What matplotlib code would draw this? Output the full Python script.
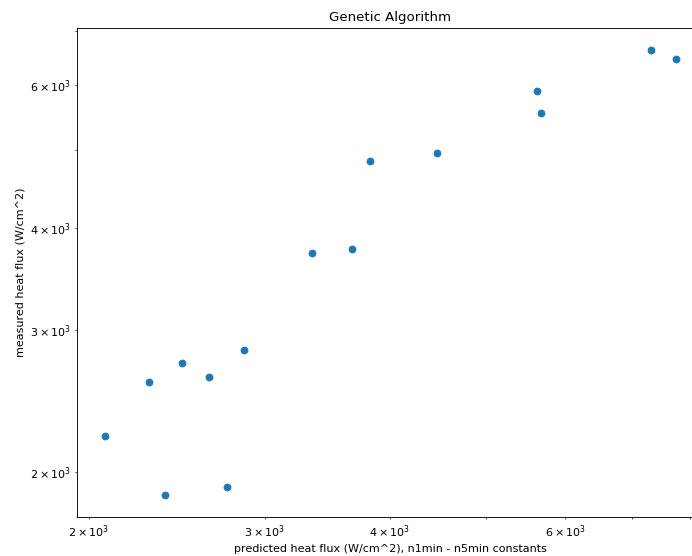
import matplotlib
matplotlib.use("Agg")
import matplotlib.pyplot as plt

# predicted vs measured heat flux (W/cm^2)
predicted = [2078, 2295, 2480, 2636, 2857, 2384, 2750, 3346, 3671, 3826,
             4467, 5624, 5669, 7302, 7734]
measured = [2215, 2588, 2732, 2621, 2832, 1877, 1918, 3733, 3771, 4835,
            4948, 5897, 5546, 6628, 6463]

W, H = 692, 556
DPI = 80
fig = plt.figure(figsize=(W / DPI, H / DPI), dpi=DPI)
# axes runs a little past the right edge, like the cropped original
ax = fig.add_axes([77 / W, (H - 517) / H, 627 / W, 489 / H])

ax.scatter(predicted, measured)
ax.set_xscale("log")
ax.set_yscale("log")
ax.set_xlabel("predicted heat flux (W/cm^2), n1min - n5min constants")
ax.set_ylabel("measured heat flux (W/cm^2)")
ax.set_title("Genetic Algorithm")

fig.savefig("out.png", dpi=DPI)
